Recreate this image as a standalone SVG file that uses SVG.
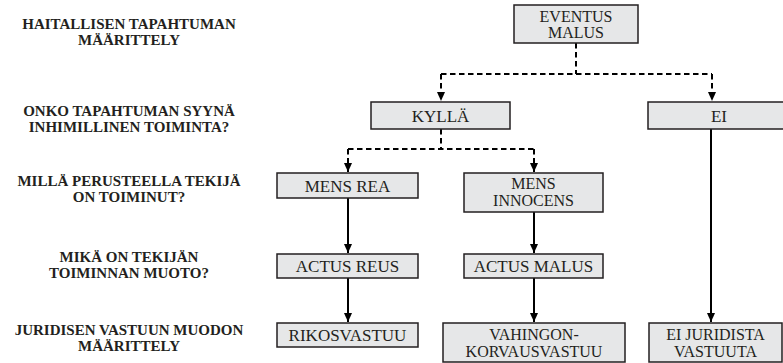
<svg xmlns="http://www.w3.org/2000/svg" width="783" height="363" viewBox="0 0 783 363">
<defs>
<style>
.box{fill:#e6e7e8;stroke:#231f20;stroke-width:1.5}
.t{font-family:'Liberation Serif','DejaVu Serif',serif;font-size:17px;fill:#231f20;text-anchor:middle}
.m{font-family:'Liberation Serif','DejaVu Serif',serif;font-size:16px;fill:#231f20;text-anchor:middle}
.q{font-family:'Liberation Serif','DejaVu Serif',serif;font-size:15px;font-weight:bold;fill:#231f20;text-anchor:middle}
.solid{fill:none;stroke:#000;stroke-width:2}
.dash{fill:none;stroke:#000;stroke-width:2;stroke-dasharray:5.5 3.5}
</style>
<marker id="ah" markerUnits="userSpaceOnUse" markerWidth="10" markerHeight="10" viewBox="0 0 10 10" refX="9" refY="5" orient="auto">
<path d="M0,1 L9,5 L0,9 Z" fill="#000"/>
</marker>
</defs>
<rect width="783" height="363" fill="#fff"/>
<g id="questions" font-family="Liberation Serif, DejaVu Serif, serif">
<text class="q" x="129" y="29">HAITALLISEN TAPAHTUMAN</text>
<text class="q" x="129" y="45">MÄÄRITTELY</text>
<text class="q" x="129" y="116">ONKO TAPAHTUMAN SYYNÄ</text>
<text class="q" x="129" y="132">INHIMILLINEN TOIMINTA?</text>
<text class="q" x="129" y="186">MILLÄ PERUSTEELLA TEKIJÄ</text>
<text class="q" x="129" y="202">ON TOIMINUT?</text>
<text class="q" x="129" y="262">MIKÄ ON TEKIJÄN</text>
<text class="q" x="129" y="278">TOIMINNAN MUOTO?</text>
<text class="q" x="129" y="335">JURIDISEN VASTUUN MUODON</text>
<text class="q" x="129" y="351">MÄÄRITTELY</text>
</g>
<g id="connectors">
<path class="dash" d="M576,43 V74 M441,74 H712"/>
<path class="dash" d="M441,74 V101" marker-end="url(#ah)"/>
<path class="dash" d="M712,74 V101" marker-end="url(#ah)"/>
<path class="dash" d="M441,129 V149 M348,149 H534"/>
<path class="dash" d="M348,149 V172" marker-end="url(#ah)"/>
<path class="dash" d="M534,149 V172" marker-end="url(#ah)"/>
<path class="solid" d="M348,198 V253" marker-end="url(#ah)"/>
<path class="solid" d="M348,278 V322" marker-end="url(#ah)"/>
<path class="solid" d="M534,212 V253" marker-end="url(#ah)"/>
<path class="solid" d="M534,278 V322" marker-end="url(#ah)"/>
<path class="solid" d="M711,129 V322" marker-end="url(#ah)"/>
</g>
<g id="eventus-malus">
<rect class="box" x="514" y="5" width="124" height="38"/>
<text class="m" x="576" y="22">EVENTUS</text>
<text class="m" x="576" y="38">MALUS</text>
</g>
<g id="kylla">
<rect class="box" x="371" y="102" width="139" height="27"/>
<text class="t" x="440.5" y="122">KYLLÄ</text>
</g>
<g id="ei">
<rect class="box" x="648" y="102" width="144" height="27"/>
<text class="t" x="719" y="122">EI</text>
</g>
<g id="mens-rea">
<rect class="box" x="277" y="173" width="141" height="25"/>
<text class="t" x="347.5" y="192">MENS REA</text>
</g>
<g id="mens-innocens">
<rect class="box" x="464" y="173" width="139" height="39"/>
<text class="m" x="533.5" y="189">MENS</text>
<text class="m" x="533.5" y="206">INNOCENS</text>
</g>
<g id="actus-reus">
<rect class="box" x="277" y="254" width="141" height="24"/>
<text class="t" x="347.5" y="272">ACTUS REUS</text>
</g>
<g id="actus-malus">
<rect class="box" x="464" y="254" width="139" height="24"/>
<text class="t" x="533.5" y="272">ACTUS MALUS</text>
</g>
<g id="rikosvastuu">
<rect class="box" x="277" y="323" width="141" height="24"/>
<text class="t" x="347.5" y="341">RIKOSVASTUU</text>
</g>
<g id="vahingonkorvausvastuu">
<rect class="box" x="443" y="323" width="182" height="39"/>
<text class="m" x="534" y="340">VAHINGON-</text>
<text class="m" x="534" y="357">KORVAUSVASTUU</text>
</g>
<g id="ei-juridista-vastuuta">
<rect class="box" x="649" y="323" width="133" height="39"/>
<text class="m" x="715.5" y="340">EI JURIDISTA</text>
<text class="m" x="715.5" y="357">VASTUUTA</text>
</g>
</svg>
